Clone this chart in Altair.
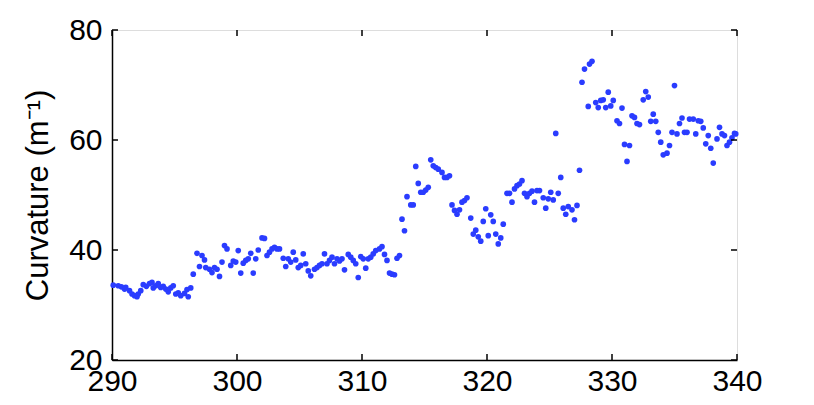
import altair as alt
import pandas as pd

# Position along the channel (x) and curvature values (y)
x_vals = [
    290.1, 290.5, 290.75, 291.0, 291.1, 291.4, 291.6, 291.8, 292.0, 292.1, 292.3, 292.5, 292.75, 293.0, 293.2,
    293.3, 293.5, 293.7, 293.9, 294.1, 294.3, 294.5, 294.7, 294.9, 295.1, 295.3, 295.5, 295.8, 296.0, 296.1, 296.3,
    296.5, 296.8, 297.0, 297.2, 297.4, 297.5, 297.8, 298.0, 298.2, 298.4, 298.6, 298.8, 299.0, 299.2, 299.5,
    299.7, 299.9, 300.1, 300.3, 300.5, 300.7, 300.9, 301.1, 301.3, 301.5, 301.7, 302.0, 302.2, 302.4, 302.6,
    302.8, 303.0, 303.2, 303.4, 303.7, 303.9, 304.1, 304.3, 304.5, 304.7, 304.9, 305.1, 305.3, 305.5, 305.7,
    305.9, 306.2, 306.4, 306.6, 306.8, 307.0, 307.2, 307.4, 307.6, 307.8, 308.0, 308.2, 308.4, 308.6, 308.9,
    309.1, 309.3, 309.5, 309.7, 309.9, 310.1, 310.3, 310.5, 310.7, 310.9, 311.1, 311.4, 311.6, 311.8, 312.0,
    312.2, 312.4, 312.6, 312.8, 313.0,
    313.2, 313.4, 313.6, 313.9, 314.1, 314.3, 314.5, 314.7, 314.9, 315.1, 315.3, 315.5, 315.7, 315.9, 316.1,
    316.4, 316.6, 316.8, 317.0, 317.2, 317.4, 317.6, 317.8, 318.0, 318.2, 318.4, 318.7, 318.9, 319.1, 319.3,
    319.5, 319.7, 319.9, 320.1, 320.3, 320.5, 320.7, 320.9, 321.1, 321.3, 321.6, 321.8, 322.0, 322.2, 322.4,
    322.6, 322.8, 323.0, 323.2, 323.4, 323.6, 323.8, 324.0, 324.2, 324.5, 324.7, 324.9, 325.1, 325.3, 325.5,
    325.7, 325.9, 326.1, 326.3, 326.5, 326.8, 327.0, 327.2, 327.4,
    327.6, 327.8, 328.1, 328.2, 328.4, 328.7, 328.9, 329.1, 329.3, 329.5, 329.7, 329.9, 330.1, 330.4, 330.6,
    330.8, 331.0, 331.2, 331.4, 331.6, 331.8, 332.0, 332.2, 332.5, 332.7, 332.9, 333.1, 333.3, 333.5, 333.7,
    333.9, 334.1, 334.4, 334.6, 334.8, 335.0, 335.2, 335.4, 335.6, 335.8, 336.0, 336.2, 336.5, 336.7, 336.9,
    337.1, 337.3, 337.5, 337.7, 337.9, 338.1, 338.4, 338.6, 338.8, 339.0, 339.2, 339.4, 339.6, 339.8, 339.9,
]
y_vals = [
    33.6, 33.5, 33.3, 32.9, 33.2, 32.6, 32.0, 31.7, 31.5, 32.0, 32.6, 33.7, 33.4, 33.9, 34.1,
    33.1, 33.5, 33.9, 33.2, 33.4, 32.9, 32.4, 33.1, 33.5, 32.0, 32.2, 31.7, 32.1, 32.8, 31.5, 33.1,
    35.6, 39.4, 37.0, 39.0, 38.2, 36.8, 36.5, 35.9, 36.8, 36.5, 35.2, 37.8, 40.8, 40.2, 37.2,
    38.0, 37.8, 39.9, 35.8, 37.6, 38.1, 38.4, 39.4, 35.8, 38.4, 40.0, 42.2, 42.1, 39.0, 39.6,
    40.2, 40.5, 40.2, 40.2, 38.5, 37.0, 38.4, 37.8, 39.6, 38.2, 36.8, 37.2, 39.3, 37.5, 36.2,
    35.3, 36.5, 36.8, 37.2, 37.5, 39.3, 37.5, 38.1, 38.7, 37.5, 38.4, 38.0, 38.4, 36.4, 39.2,
    38.7, 38.1, 37.5, 35.0, 38.8, 38.4, 36.7, 38.4, 38.7, 39.3, 39.9, 40.2, 40.6, 39.2, 38.1,
    35.8, 35.6, 35.5, 38.5, 39.0,
    45.6, 43.5, 49.7, 48.2, 48.2, 55.2, 52.1, 50.5, 50.5, 50.9, 51.4, 56.4, 55.3, 55.0, 54.7,
    54.1, 53.2, 53.2, 53.5, 48.2, 47.2, 46.5, 47.3, 48.7, 49.0, 49.5, 45.8, 42.9, 43.6, 42.4,
    41.6, 45.2, 47.5, 42.6, 46.4, 45.2, 42.9, 41.1, 42.2, 44.7, 50.3, 50.3, 48.7, 51.1, 51.7,
    52.0, 52.6, 50.3, 49.7, 50.3, 50.7, 48.7, 50.8, 50.8, 49.5, 47.6, 49.3, 50.5, 49.1, 61.2,
    50.3, 53.2, 47.6, 46.5, 47.9, 47.3, 45.5, 48.1, 54.5,
    70.5, 72.9, 66.1, 73.8, 74.3, 66.8, 65.9, 67.2, 67.3, 65.9, 68.7, 66.2, 67.2, 63.5, 63.0,
    65.8, 59.2, 56.1, 59.0, 64.4, 64.1, 63.0, 62.8, 67.3, 68.8, 67.8, 63.4, 64.7, 63.4, 61.4,
    59.6, 57.3, 57.6, 59.0, 61.4, 69.9, 61.1, 63.0, 64.0, 61.4, 61.4, 63.8, 63.8, 61.1, 63.5,
    63.4, 62.2, 59.3, 60.8, 58.5, 55.8, 60.2, 62.3, 61.1, 60.8, 59.0, 59.6, 60.4, 61.2, 61.1,
]

x_ticks = [290, 300, 310, 320, 330, 340]
y_ticks = [20, 40, 60, 80]
y_title = "Curvature (m⁻¹)"

W, H = 625, 330
TICK = 6
FONT = "Liberation Sans"
LABEL_SIZE = 30

df = pd.DataFrame({"x": x_vals, "y": y_vals})
xt = pd.DataFrame({"xt": x_ticks})
yt = pd.DataFrame({"yt": y_ticks})

xscale = alt.Scale(domain=[290, 340], nice=False, zero=False)
yscale = alt.Scale(domain=[20, 80], nice=False, zero=False)

points = alt.Chart(df).mark_circle(size=32, opacity=1, color="#2a3cff").encode(
    x=alt.X("x:Q", scale=xscale,
            axis=alt.Axis(values=x_ticks, title=None, grid=False, ticks=False,
                          domain=True, domainColor="black", domainWidth=1.5,
                          labelFlush=False, labelOverlap=False,
                          labelFontSize=LABEL_SIZE, labelFont=FONT, labelColor="black",
                          labelPadding=6, format="d")),
    y=alt.Y("y:Q", scale=yscale,
            axis=alt.Axis(values=y_ticks, title=y_title, grid=False, ticks=False,
                          domain=True, domainColor="black", domainWidth=1.5,
                          labelFlush=False, labelOverlap=False,
                          labelFontSize=LABEL_SIZE, labelFont=FONT, labelColor="black",
                          labelPadding=10, format="d",
                          titleFontSize=31, titleFont=FONT, titleFontWeight="normal",
                          titleColor="black", titlePadding=14)),
)

rule_style = dict(color="black", strokeWidth=1.5)
xt_bottom = alt.Chart(xt).mark_rule(**rule_style).encode(
    x=alt.X("xt:Q", scale=xscale), y=alt.value(H), y2=alt.value(H - TICK))
xt_top = alt.Chart(xt).mark_rule(**rule_style).encode(
    x=alt.X("xt:Q", scale=xscale), y=alt.value(0), y2=alt.value(TICK))
yt_left = alt.Chart(yt).mark_rule(**rule_style).encode(
    y=alt.Y("yt:Q", scale=yscale), x=alt.value(0), x2=alt.value(TICK))
yt_right = alt.Chart(yt).mark_rule(**rule_style).encode(
    y=alt.Y("yt:Q", scale=yscale), x=alt.value(W), x2=alt.value(W - TICK))

chart = alt.layer(points, xt_bottom, xt_top, yt_left, yt_right).properties(
    width=W, height=H,
    autosize=alt.AutoSizeParams(type="none"),
    padding={"left": 104, "top": 22, "right": 69, "bottom": 37},
).configure_view(stroke="black", strokeWidth=1.5).configure(background="white")

chart.save("out.html", embed_options={"renderer": "svg", "actions": False})
